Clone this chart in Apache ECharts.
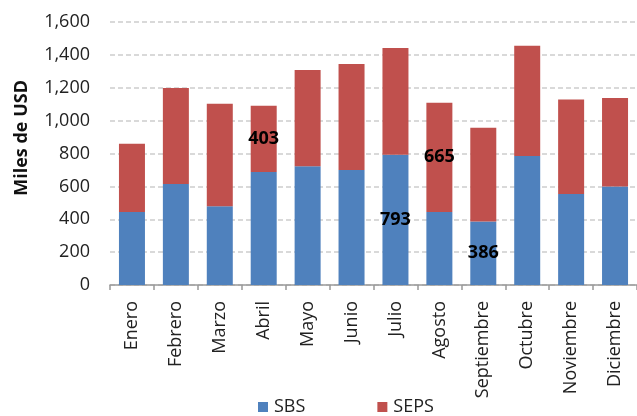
<!DOCTYPE html>
<html><head><meta charset="utf-8">
<script src="https://cdn.jsdelivr.net/npm/echarts@6/dist/echarts.min.js"></script>
<style>html,body{margin:0;padding:0;background:#fff}#c{width:637px;height:416px}</style>
</head><body><div id="c"></div>
<script>
var categories = ['Enero','Febrero','Marzo','Abril','Mayo','Junio','Julio','Agosto','Septiembre','Octubre','Noviembre','Diciembre'];
var sbs  = [444, 614, 479, 688, 722, 700, 793, 444, 386, 785, 553, 600];
var seps = [416, 585, 623, 403, 586, 645, 649, 665, 570, 671, 575, 538];
var labeledSBS = [6, 8];
var labeledSEPS = [3, 7];
var yTicks = [0, 1600, 200];
var yTitle = 'Miles de USD';

function mk(vals, idxs){
  return vals.map(function(v,i){
    return idxs.indexOf(i) >= 0 ? {value:v, label:{show:true}} : v;
  });
}
var chart = echarts.init(document.getElementById('c'));
var lbl = {show:false, position:'inside', color:'#000', fontWeight:'bold', fontSize:18, fontFamily:'Open Sans'};
chart.setOption({
  animation:false,
  textStyle:{fontFamily:'Open Sans'},
  grid:{left:110, right:-10, top:22, bottom:131},
  graphic:[{type:'text', left:13, top:80, rotation:Math.PI/2,
    style:{text:yTitle, fontSize:18, fontWeight:'bold', fill:'#111', fontFamily:'Open Sans'}}],
  legend:{bottom:-5, left:253, itemWidth:10, itemHeight:10, itemGap:72, icon:'rect',
    textStyle:{fontSize:18, color:'#222', fontFamily:'Open Sans', padding:[0,0,0,1]},
    data:['SBS','SEPS']},
  xAxis:{type:'category', data:categories,
    axisLine:{lineStyle:{color:'#999', width:1.5}},
    axisTick:{show:true, length:5, lineStyle:{color:'#999', width:1.5}},
    axisLabel:{rotate:90, fontSize:18, color:'#222', margin:16, interval:0}},
  yAxis:{type:'value', min:yTicks[0], max:yTicks[1], interval:yTicks[2],
    axisLine:{show:false}, axisTick:{show:false},
    axisLabel:{fontSize:18, color:'#222', margin:20,
      formatter:function(v){return v.toLocaleString('en-US');}},
    splitLine:{lineStyle:{type:[5,3], color:'#d9d9d9', width:2}}},
  series:[
    {name:'SBS', type:'bar', stack:'t', barWidth:26, data:mk(sbs, labeledSBS),
     itemStyle:{color:'#4f81bd'}, label:lbl},
    {name:'SEPS', type:'bar', stack:'t', barWidth:26, data:mk(seps, labeledSEPS),
     itemStyle:{color:'#c0504d'}, label:lbl}
  ]
});
</script></body></html>
